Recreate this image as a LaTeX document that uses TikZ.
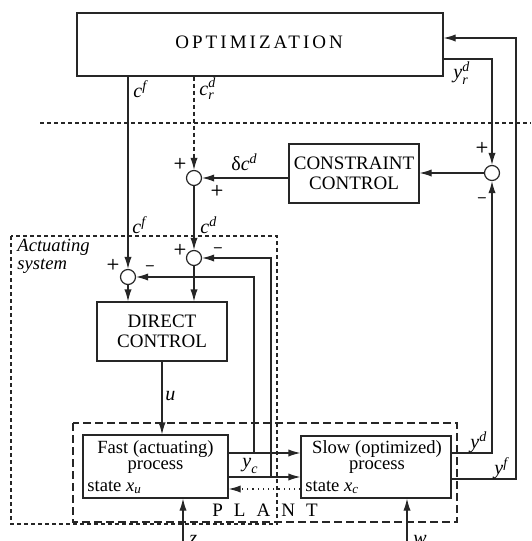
\documentclass[tikz,border=0pt]{standalone}
\usepackage{amsmath}
\usepackage{fontspec}
\setmainfont{Liberation Serif}
\newfontfamily\optfont[LetterSpace=16]{Liberation Serif}
\newfontfamily\plantfont[LetterSpace=58]{Liberation Serif}
\usetikzlibrary{arrows.meta,calc,positioning}

% italic signal names in the text font
\newcommand{\sv}[1]{\textit{#1}}

\tikzset{
  block/.style={draw=black!85, line width=0.6pt, align=center, inner sep=0pt,
    font=\fontsize{9.5}{10}\selectfont},
  junction/.style={draw=black!85, circle, line width=0.6pt, minimum size=7.5pt, inner sep=0pt},
  sgn/.style={inner sep=0pt, font=\sffamily\bfseries\fontsize{7.5}{7.5}\selectfont},
  lbl/.style={inner sep=0pt, font=\fontsize{10}{10}\selectfont},
  signal/.style={draw=black!85, line width=0.6pt, -{Latex[length=6pt,width=3.6pt]}},
  frame/.style={draw=black!85, line width=0.55pt, dash pattern=on 2pt off 1.5pt},
  plantframe/.style={draw=black!85, line width=0.55pt, dash pattern=on 4pt off 2pt},
}

\begin{document}
\begin{tikzpicture}[x=0.5pt, y=-0.5pt]
    \useasboundingbox (0,0) rectangle (531,541);

    % Define the blocks
    \node[block, minimum width=183pt, minimum height=31.5pt] (opt) at (260,44.5) {};
    \node[lbl, anchor=base west] (opttxt) at (175,48) {\optfont\fontsize{9.5}{10}\selectfont OPTIMIZATION};
    \node[block, minimum width=65pt, minimum height=29.5pt] (constr) at (354,173.5) {CONSTRAINT\\CONTROL};
    \node[block, minimum width=65pt, minimum height=29.5pt] (dirctl) at (162,331.5) {DIRECT\\CONTROL};
    \node[block, minimum width=72.5pt, minimum height=31.5pt] (fast) at (155.5,466.5) {};
    \node[block, minimum width=75pt, minimum height=31pt] (slow) at (376,467) {};

    % Texts inside the process blocks
    \node[lbl, align=center, font=\fontsize{9.3}{8}\selectfont] (fasttxt) at (155.5,457) {Fast (actuating)\\process};
    \node[lbl, anchor=base west, font=\fontsize{9.3}{9}\selectfont] (fastst) at (87,491) {state $\sv{x}_{\sv{u}}$};
    \node[lbl, align=center, font=\fontsize{9.3}{8}\selectfont] (slowtxt) at (377,457) {Slow (optimized)\\process};
    \node[lbl, anchor=base west, font=\fontsize{9.3}{9}\selectfont] (slowst) at (305,491) {state $\sv{x}_{\sv{c}}$};

    % Define the summing junctions
    \node[junction] (sumA) at (194,178) {};
    \node[junction] (sumB) at (194,258) {};
    \node[junction] (sumC) at (128,277) {};
    \node[junction] (sumR) at (492,173) {};

    % Signs at the junctions
    \node[sgn] (sA1) at ($(sumA)+(-14,-14)$) {+};
    \node[sgn] (sA2) at ($(sumA)+(23,13)$) {+};
    \node[sgn] (sB1) at ($(sumB)+(-14,-8)$) {+};
    \node[sgn] (sB2) at ($(sumB)+(24,-8)$) {--};
    \node[sgn] (sC1) at ($(sumC)+(-15,-12)$) {+};
    \node[sgn] (sC2) at ($(sumC)+(22,-9)$) {--};
    \node[sgn] (sR1) at ($(sumR)+(-10,-25)$) {+};
    \node[sgn] (sR2) at ($(sumR)+(-10,27)$) {--};

    % Points where the outputs branch off
    \coordinate (ycA) at (254,453);
    \coordinate (ycB) at (271,477);
    \coordinate (yfc) at (516,38);
    \coordinate (zin) at (183,541);
    \coordinate (win) at (407,541);

    % Draw the separating line and the frames
    \draw[frame] (40,123) -- (531,123);
    \draw[frame] (11,236) rectangle (277,524);
    \draw[plantframe] (73,423) rectangle (457,522);
    \node[lbl, anchor=north west, align=left, font=\itshape\fontsize{9.3}{9}\selectfont] (actlbl) at (17,239) {Actuating\\system};
    \node[lbl, anchor=base west] (plantlbl) at (212,516) {\plantfont\fontsize{9.5}{10}\selectfont PLANT};

    % Draw the signals from the optimization
    \draw[signal] (opt.south -| sumC) -- (sumC);
    \draw[signal, dash pattern=on 2pt off 1.5pt] (opt.south -| sumA) -- (sumA);
    \draw[signal] ($(opt.east)+(0,14.5)$) -| (sumR);
    \draw[signal] (sumR) -- (sumR -| constr.east);
    \draw[signal] (constr.west |- sumA) -- (sumA);
    \draw[signal] (sumA) -- (sumB);

    % Draw the direct control loop
    \draw[signal] (sumB) -- (sumB |- dirctl.north);
    \draw[signal] (sumC) -- (sumC |- dirctl.north);
    \draw[signal] (dirctl) -- (dirctl |- fast.north);
    \draw[signal] (fast.east |- ycA) -- (slow.west |- ycA);
    \draw[signal] (fast.east |- ycB) -- (slow.west |- ycB);
    \draw[signal] (ycA) |- (sumC);
    \draw[signal] (ycB) |- (sumB);
    \draw[signal, dotted] (slow.west |- 0,489) -- (fast.east |- 0,489);

    % Draw the plant outputs
    \draw[signal] (slow.east |- ycA) -| (sumR);
    \draw[signal] (slow.east |- 0,479) -| (yfc) -- (yfc -| opt.east);

    % Draw the disturbances
    \draw[signal] (zin) -- (zin |- fast.south);
    \draw[signal] (win) -- (win |- slow.south);

    % Signal labels
    \node[lbl, anchor=west] (cf1) at (133,89) {$\sv{c}^{\sv{f}}$};
    \node[lbl, anchor=west] (crd) at (199,89) {$\sv{c}^{\sv{d}}_{\sv{r}}$};
    \node[lbl, anchor=west] (yrd) at (453,73) {$\sv{y}^{\sv{d}}_{\sv{r}}$};
    \node[lbl, anchor=west] (dcd) at (231,162) {δ$\sv{c}^{\sv{d}}$};
    \node[lbl, anchor=west] (cf2) at (132,225) {$\sv{c}^{\sv{f}}$};
    \node[lbl, anchor=west] (cd) at (200,225) {$\sv{c}^{\sv{d}}$};
    \node[lbl, anchor=west] (ulbl) at (165,396) {$\sv{u}$};
    \node[lbl, anchor=west] (yclbl) at (242,466) {$\sv{y}_{\sv{c}}$};
    \node[lbl, anchor=west] (ydlbl) at (470,442) {$\sv{y}^{\sv{d}}$};
    \node[lbl, anchor=west] (yflbl) at (494,468) {$\sv{y}^{\sv{f}}$};
    \node[lbl, anchor=north west] (zlbl) at (189,535) {$\sv{z}$};
    \node[lbl, anchor=north west] (wlbl) at (413,535) {$\sv{w}$};
\end{tikzpicture}
\end{document}
